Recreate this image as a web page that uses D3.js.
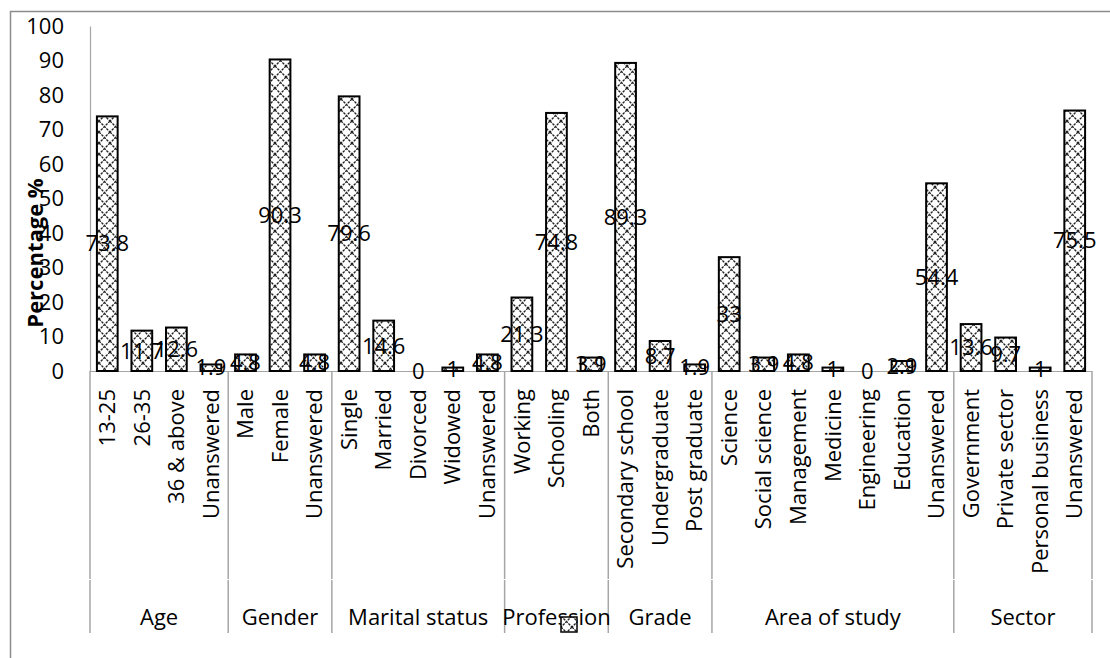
<!DOCTYPE html>
<html>
<head>
<meta charset="utf-8">
<script src="https://cdn.jsdelivr.net/npm/d3@7"></script>
<style>
  body { margin: 0; background: #fff; }
  svg text { font-family: "Open Sans", Calibri, sans-serif; fill: #000; }
</style>
</head>
<body>
<div id="chart"></div>
<script>
// data
var groupNames = ["Age", "Gender", "Marital status", "Profession", "Grade", "Area of study", "Sector"];
var groupSizes = [4, 3, 5, 3, 3, 7, 4];
var categories = [
    "13-25", "26-35", "36 & above", "Unanswered",
    "Male", "Female", "Unanswered",
    "Single", "Married", "Divorced", "Widowed", "Unanswered",
    "Working", "Schooling", "Both",
    "Secondary school", "Undergraduate", "Post graduate",
    "Science", "Social science", "Management", "Medicine", "Engineering", "Education", "Unanswered",
    "Government", "Private sector", "Personal business", "Unanswered"
];
var values = [
    73.8, 11.7, 12.6, 1.9,
    4.8, 90.3, 4.8,
    79.6, 14.6, 0, 1, 4.8,
    21.3, 74.8, 3.9,
    89.3, 8.7, 1.9,
    33, 3.9, 4.8, 1, 0, 2.9, 54.4,
    13.6, 9.7, 1, 75.5
];
var yTicks = [0, 10, 20, 30, 40, 50, 60, 70, 80, 90, 100];

var W = 1110, H = 658;
var plotLeft = 90, plotRight = 1092, plotTop = 26, plotBase = 371;
var GRID = "#a6a6a6";
var FS = 22;

var svg = d3.select("#chart").append("svg")
    .attr("width", W)
    .attr("height", H);

// cross hatch like excel's diagonal cross fill
var P = 11;
var pat = svg.append("defs").append("pattern")
    .attr("id", "hatch")
    .attr("patternUnits", "userSpaceOnUse")
    .attr("width", P)
    .attr("height", P);
pat.append("rect").attr("width", P).attr("height", P).attr("fill", "#fff");
pat.append("path")
    .attr("d", "M0,0L" + P + "," + P + "M" + P + ",0L0," + P)
    .attr("stroke", "#222")
    .attr("stroke-width", 1.3)
    .attr("stroke-dasharray", "2.5,1");

// outer chart frame (runs off the picture)
svg.append("path")
    .attr("d", "M10.5," + H + "V11.5H" + W)
    .attr("fill", "none")
    .attr("stroke", "#8c8c8c")
    .attr("stroke-width", 1.5);

var x = d3.scaleBand()
    .domain(d3.range(categories.length))
    .range([plotLeft, plotRight])
    .paddingInner(0.4)
    .paddingOuter(0.2);

var y = d3.scaleLinear()
    .domain([0, 100])
    .range([plotBase, plotTop]);

// y axis
var yAxis = svg.append("g")
    .attr("transform", "translate(" + plotLeft + ",0)")
    .call(d3.axisLeft(y).tickValues(yTicks).tickSize(0).tickPadding(26));
yAxis.select(".domain").attr("stroke", GRID).attr("stroke-width", 1.2);
yAxis.selectAll("text")
    .attr("font-size", FS)
    .style("font-family", "\"Open Sans\", Calibri, sans-serif");

svg.append("text")
    .attr("transform", "translate(43,253) rotate(-90)")
    .attr("text-anchor", "middle")
    .attr("font-size", FS)
    .attr("font-weight", "bold")
    .text("Percentage %");

// category axis line and group dividers
var step = x.step();
svg.append("line")
    .attr("x1", plotLeft).attr("x2", plotRight)
    .attr("y1", plotBase + 0.5).attr("y2", plotBase + 0.5)
    .attr("stroke", GRID).attr("stroke-width", 1.2);

var starts = [0];
groupSizes.forEach(function(n, i) { starts.push(starts[i] + n); });

var dividers = svg.append("g").selectAll("g")
    .data(starts)
  .enter().append("g");
dividers.append("line")
    .attr("x1", function(d) { return plotLeft + d * step; })
    .attr("x2", function(d) { return plotLeft + d * step; })
    .attr("y1", plotBase).attr("y2", 579)
    .attr("stroke", GRID).attr("stroke-width", 1.5);
dividers.append("line")
    .attr("x1", function(d) { return plotLeft + d * step; })
    .attr("x2", function(d) { return plotLeft + d * step; })
    .attr("y1", 580).attr("y2", 633)
    .attr("stroke", GRID).attr("stroke-width", 1.5);

// category labels, rotated
svg.append("g").selectAll("text")
    .data(categories)
  .enter().append("text")
    .attr("transform", function(d, i) {
        return "translate(" + (x(i) + x.bandwidth() / 2) + ",389) rotate(-90)";
    })
    .attr("text-anchor", "end")
    .attr("dy", "0.35em")
    .attr("font-size", FS)
    .text(function(d) { return d; });

// group labels
svg.append("g").selectAll("text")
    .data(groupNames)
  .enter().append("text")
    .attr("x", function(d, i) {
        return plotLeft + (starts[i] + groupSizes[i] / 2) * step;
    })
    .attr("y", 625)
    .attr("text-anchor", "middle")
    .attr("font-size", FS)
    .text(function(d) { return d; });

// bars
svg.append("g").selectAll("rect")
    .data(values)
  .enter().append("rect")
    .attr("x", function(d, i) { return x(i); })
    .attr("y", function(d) { return y(d); })
    .attr("width", x.bandwidth())
    .attr("height", function(d) { return plotBase - y(d); })
    .attr("fill", "url(#hatch)")
    .attr("stroke", "#000")
    .attr("stroke-width", 2);

// value labels in the middle of each bar
svg.append("g").selectAll("text")
    .data(values)
  .enter().append("text")
    .attr("x", function(d, i) { return x(i) + x.bandwidth() / 2; })
    .attr("y", function(d) { return (y(d) + plotBase) / 2; })
    .attr("dy", "0.35em")
    .attr("text-anchor", "middle")
    .attr("font-size", FS)
    .text(function(d) { return d; });

// legend key with no series name
svg.append("rect")
    .attr("x", 561).attr("y", 617)
    .attr("width", 16).attr("height", 15)
    .attr("fill", "url(#hatch)")
    .attr("stroke", "#000")
    .attr("stroke-width", 1.5);
</script>
</body>
</html>
